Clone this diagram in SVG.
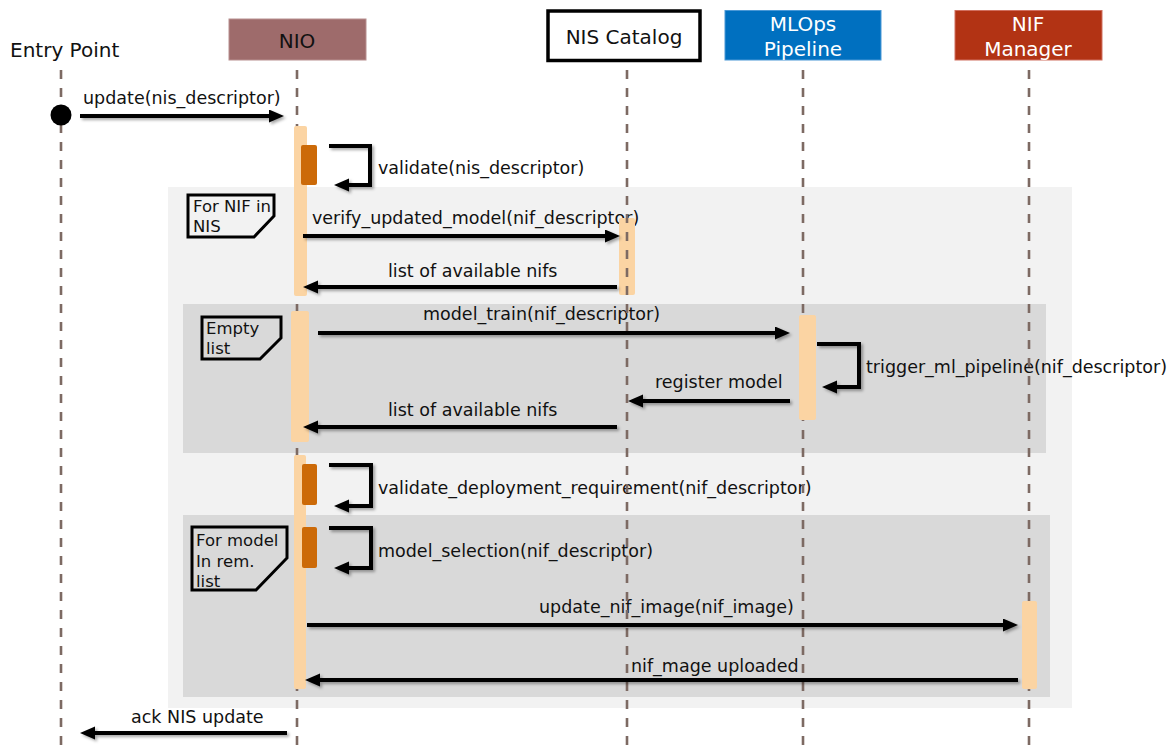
<svg xmlns="http://www.w3.org/2000/svg" width="1172" height="753" viewBox="0 0 1172 753">
  <style>
    text { font-family: "DejaVu Sans", "Liberation Sans", sans-serif; fill: #111; }
    .head { font-size: 20px; text-anchor: middle; }
    .headw { font-size: 20px; text-anchor: middle; fill: #fff; }
    .msg { font-size: 17.5px; }
    .tag { font-size: 16.5px; }
    .life { stroke: #7d6a63; stroke-width: 2.6; stroke-dasharray: 9 9; fill: none; }
    .act { fill: #fbd4a3; }
    .exec { fill: #cc6a08; }
    .arrow { stroke: #000; stroke-width: 4; fill: none; marker-end: url(#head); }
    .frame-outer { fill: #f2f2f2; }
    .frame-inner { fill: #d9d9d9; }
    .tagbox { fill: none; stroke: #000; stroke-width: 3; }
  </style>
  <defs>
    <marker id="head" markerUnits="userSpaceOnUse" markerWidth="16" markerHeight="14" refX="7" refY="6.5" orient="auto">
      <path d="M0,0 L15,6.5 L0,13 z" fill="#000"/>
    </marker>
    <filter id="shadow" x="-10%" y="-50%" width="120%" height="200%">
      <feDropShadow dx="2" dy="2" stdDeviation="1.6" flood-color="#000" flood-opacity="0.35"/>
    </filter>
  </defs>

  <!-- combined fragments -->
  <g id="frames">
    <rect class="frame-outer" x="168" y="187" width="904" height="521"/>
    <rect class="frame-inner" x="183" y="304" width="863" height="149"/>
    <rect class="frame-inner" x="183" y="515" width="867" height="182"/>
    <g id="tag-for-nif">
      <polygon class="tagbox" points="188,195 274,195 274,216 254,237 188,237"/>
      <text class="tag" x="193" y="212">For NIF in</text>
      <text class="tag" x="193" y="232">NIS</text>
    </g>
    <g id="tag-empty-list">
      <polygon class="tagbox" points="202,317 281,317 281,338 260,359 202,359"/>
      <text class="tag" x="206" y="334">Empty</text>
      <text class="tag" x="206" y="354">list</text>
    </g>
    <g id="tag-for-model">
      <polygon class="tagbox" points="192,527 287,527 287,558 256,590 192,590"/>
      <text class="tag" x="196" y="546">For model</text>
      <text class="tag" x="196" y="567">In rem.</text>
      <text class="tag" x="196" y="587">list</text>
    </g>
  </g>

  <!-- message labels -->
  <g id="labels">
    <text class="msg" x="83" y="104">update(nis_descriptor)</text>
    <text class="msg" x="378" y="174">validate(nis_descriptor)</text>
    <text class="msg" x="312" y="224">verify_updated_model(nif_descriptor)</text>
    <text class="msg" x="388" y="277">list of available nifs</text>
    <text class="msg" x="423" y="320">model_train(nif_descriptor)</text>
    <text class="msg" x="866" y="373">trigger_ml_pipeline(nif_descriptor)</text>
    <text class="msg" x="655" y="388">register model</text>
    <text class="msg" x="388" y="416">list of available nifs</text>
    <text class="msg" x="378" y="494">validate_deployment_requirement(nif_descriptor)</text>
    <text class="msg" x="378" y="557">model_selection(nif_descriptor)</text>
    <text class="msg" x="539" y="613">update_nif_image(nif_image)</text>
    <text class="msg" x="631" y="672">nif_mage uploaded</text>
    <text class="msg" x="131" y="723">ack NIS update</text>
  </g>

  <!-- NIS Catalog activation sits beneath its lifeline -->
  <rect class="act" x="619" y="218" width="16" height="77" rx="2"/>

  <g id="entry-point">
    <text x="10" y="57" style="font-size:20px">Entry Point</text>
    <line class="life" x1="61" y1="70" x2="61" y2="753"/>
    <circle cx="61" cy="115" r="10.5" fill="#000"/>
  </g>

  <g id="nio">
    <rect x="229" y="19" width="137" height="41" fill="#9e6b6b" stroke="#b89090" stroke-width="1"/>
    <text class="head" x="297" y="48">NIO</text>
    <line class="life" x1="297" y1="70" x2="297" y2="753"/>
    <rect class="act" x="294" y="126" width="13" height="170" rx="2"/>
    <rect class="act" x="291" y="311" width="18" height="131" rx="2"/>
    <rect class="act" x="294" y="455" width="12" height="234" rx="2"/>
    <rect class="exec" x="301" y="145" width="16" height="40" rx="2"/>
    <rect class="exec" x="302" y="464" width="15" height="41" rx="2"/>
    <rect class="exec" x="302" y="527" width="15" height="41" rx="2"/>
  </g>

  <g id="nis-catalog">
    <rect x="548" y="11" width="152" height="49.5" fill="#fff" stroke="#000" stroke-width="3.5"/>
    <text class="head" x="624" y="44">NIS Catalog</text>
    <line class="life" x1="627" y1="70" x2="627" y2="753"/>
  </g>

  <g id="mlops-pipeline">
    <rect x="725" y="10.5" width="156" height="49.5" fill="#0070c0" stroke="#4a98d6" stroke-width="1"/>
    <text class="headw" x="803" y="31">MLOps</text>
    <text class="headw" x="803" y="56">Pipeline</text>
    <line class="life" x1="803" y1="70" x2="803" y2="753"/>
    <rect class="act" x="799" y="315" width="17" height="105" rx="2"/>
  </g>

  <g id="nif-manager">
    <rect x="955" y="10.5" width="147" height="49.5" fill="#b23314" stroke="#d07060" stroke-width="1"/>
    <text class="headw" x="1028" y="31">NIF</text>
    <text class="headw" x="1028" y="56">Manager</text>
    <line class="life" x1="1029" y1="70" x2="1029" y2="753"/>
    <rect class="act" x="1022" y="601" width="15" height="88" rx="2"/>
  </g>

  <!-- connectors -->
  <g id="connectors" filter="url(#shadow)">
    <line class="arrow" x1="80" y1="116" x2="276" y2="116"/>
    <polyline class="arrow" points="329,146 370,146 370,185 342,185"/>
    <line class="arrow" x1="303" y1="236" x2="612" y2="236"/>
    <line class="arrow" x1="617" y1="287" x2="311" y2="287"/>
    <line class="arrow" x1="318" y1="333" x2="782" y2="333"/>
    <polyline class="arrow" points="817,344 859,344 859,387 830,387"/>
    <line class="arrow" x1="790" y1="401" x2="636" y2="401"/>
    <line class="arrow" x1="617" y1="427" x2="311" y2="427"/>
    <polyline class="arrow" points="329,465 371,465 371,506 342,506"/>
    <polyline class="arrow" points="329,528 371,528 371,568 342,568"/>
    <line class="arrow" x1="307" y1="625" x2="1010" y2="625"/>
    <line class="arrow" x1="1018" y1="680" x2="313" y2="680"/>
    <line class="arrow" x1="287" y1="733" x2="88" y2="733"/>
  </g>
</svg>
